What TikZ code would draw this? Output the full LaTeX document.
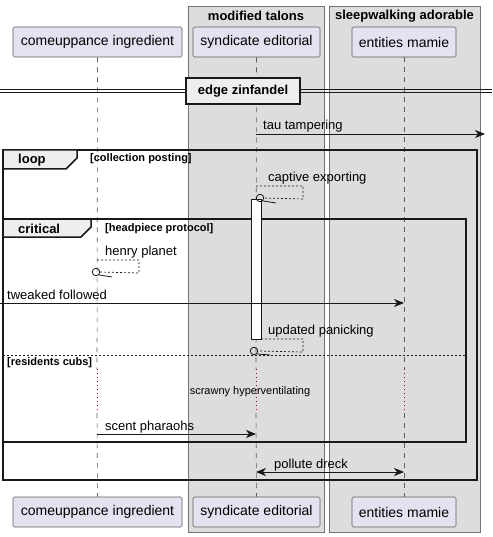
\documentclass[tikz,border=0pt]{standalone}
\usepackage{fontspec}
\setmainfont{Liberation Sans}
\usetikzlibrary{arrows.meta}
\definecolor{partfill}{HTML}{E2E2F0}
\definecolor{boxfill}{HTML}{DDDDDD}
\definecolor{tabfill}{HTML}{EEEEEE}
\definecolor{lineclr}{HTML}{181818}
\definecolor{delayclr}{HTML}{A80036}
\tikzset{
  participant/.style={draw=lineclr!70, fill=partfill, rounded corners=1.5pt, line width=0.6pt,
    minimum height=30pt, inner sep=0pt, font=\fontsize{14}{16}\selectfont},
  groupbox/.style={draw=black!55, fill=boxfill, line width=0.8pt},
  lifeline/.style={draw=lineclr!70, dash pattern=on 5pt off 5pt, line width=0.6pt},
  delayline/.style={draw=delayclr, dash pattern=on 1pt off 3pt, line width=0.8pt},
  frameline/.style={draw=black!90, line width=1.5pt},
  msg/.style={draw=lineclr, line width=0.8pt, -{Stealth[length=10pt,width=8pt,inset=3pt]}},
  bimsg/.style={draw=lineclr, line width=0.8pt, {Stealth[length=10pt,width=8pt,inset=3pt]}-{Stealth[length=10pt,width=8pt,inset=3pt]}},
  selfmsg/.style={draw=lineclr, line width=0.7pt, dash pattern=on 2pt off 2pt},
  msglabel/.style={anchor=base west, inner sep=0pt, font=\fontsize{13}{15}\selectfont},
  grouptitle/.style={inner sep=0pt, font=\bfseries\fontsize{13}{15}\selectfont},
  guard/.style={anchor=west, inner sep=0pt, font=\bfseries\fontsize{11}{13}\selectfont},
  tabtext/.style={anchor=west, inner sep=0pt, font=\bfseries\fontsize{13}{15}\selectfont},
}
\begin{document}
\begin{tikzpicture}[x=1pt,y=-1pt]
\useasboundingbox (0,0) rectangle (492,537);
\fill[white] (0,0) rectangle (492,537);
% group boxes
\draw[groupbox] (188,6) rectangle (324,532);
\draw[groupbox] (329,6) rectangle (480,532);
\node[grouptitle] (gA) at (256,16) {modified talons};
\node[grouptitle] (gB) at (404.5,16) {sleepwalking adorable};
% participants
\node[participant, minimum width=169pt] (A) at (97.5,42) {comeuppance ingredient};
\node[participant, minimum width=127pt] (B) at (256.5,42) {syndicate editorial};
\node[participant, minimum width=104pt] (C) at (404,42) {entities mamie};
\node[participant, minimum width=169pt] (Ab) at (97.5,512) {comeuppance ingredient};
\node[participant, minimum width=127pt] (Bb) at (256.5,512) {syndicate editorial};
\node[participant, minimum width=104pt] (Cb) at (404,512) {entities mamie};
% lifeline coordinates
\coordinate (A1) at (97,369); \coordinate (A2) at (97,413);
\coordinate (B1) at (256,369); \coordinate (B2) at (256,413);
\coordinate (C1) at (404,369); \coordinate (C2) at (404,413);
\draw[lifeline] (A.south) -- (A1);
\draw[lifeline] (A2) -- (Ab.north);
\draw[lifeline] (B.south) -- (B1);
\draw[lifeline] (B2) -- (Bb.north);
\draw[lifeline] (C.south) -- (C1);
\draw[lifeline] (C2) -- (Cb.north);
\draw[delayline] (A1) -- (A2);
\draw[delayline] (B1) -- (B2);
\draw[delayline] (C1) -- (C2);
\node[inner sep=0pt, font=\fontsize{11}{13}\selectfont] (delay) at (250,392) {scrawny hyperventilating};
% divider
\draw[draw=black!90, line width=0.8pt] (0,89.5) -- (492,89.5);
\draw[draw=black!90, line width=0.8pt] (0,92.5) -- (492,92.5);
\node[draw=black!90, line width=1.5pt, fill=tabfill, minimum width=114pt, minimum height=26pt, inner sep=0pt,
  font=\bfseries\fontsize{13}{15}\selectfont] (div) at (243,91) {edge zinfandel};
% tau tampering
\coordinate (tauS) at (256,134);
\coordinate (tauE) at (485,134);
\draw[msg] (tauS) -- (tauE);
\node[msglabel] (tauL) at (263,130) {tau tampering};
% loop frame
\draw[frameline] (3,150) rectangle (477,480);
\draw[frameline, fill=tabfill] (3,150) -- (77,150) -- (77,158) -- (66,169) -- (3,169) -- cycle;
\node[tabtext] (loopT) at (18,160) {loop};
\node[guard] (loopG) at (90,158.5) {[collection posting]};
% critical frame
\draw[frameline] (3,219) rectangle (466,442);
\draw[frameline, fill=tabfill] (3,219) -- (91,219) -- (91,227) -- (81,237) -- (3,237) -- cycle;
\node[tabtext] (critT) at (18,229) {critical};
\node[guard] (critG) at (105,229) {[headpiece protocol]};
% else separator
\draw[draw=black!90, line width=0.8pt, dash pattern=on 2pt off 2pt] (3,355) -- (466,355);
\node[guard] (elseG) at (7,362.5) {[residents cubs]};
% activation bar
\draw[draw=lineclr, fill=white, line width=0.8pt] (251,199) rectangle (261,339);
% captive exporting
\node[msglabel] (capL) at (268,182) {captive exporting};
\node[draw=lineclr, line width=0.8pt, circle, inner sep=0pt, minimum size=7.5pt] (capO) at (260,198) {};
\draw[selfmsg] (256,186) -- (303,186) -- (303,199) -- (capO.east);
\draw[draw=lineclr, line width=0.8pt] (capO.south east) -- (276,203);
% henry planet
\node[msglabel] (henL) at (105,255.5) {henry planet};
\node[draw=lineclr, line width=0.8pt, circle, inner sep=0pt, minimum size=7.5pt] (henO) at (96,272) {};
\draw[selfmsg] (97,260) -- (139,260) -- (139,273) -- (henO.east);
\draw[draw=lineclr, line width=0.8pt] (henO.south east) -- (112,277);
% tweaked followed
\coordinate (twS) at (0,303);
\coordinate (twE) at (404,303);
\draw[msg] (twS) -- (twE);
\node[msglabel] (twL) at (7,299) {tweaked followed};
% updated panicking
\node[msglabel] (updL) at (268,334) {updated panicking};
\node[draw=lineclr, line width=0.8pt, circle, inner sep=0pt, minimum size=7.5pt] (updO) at (254,351) {};
\draw[selfmsg] (261,339) -- (303,339) -- (303,352) -- (updO.east);
\draw[draw=lineclr, line width=0.8pt] (updO.south east) -- (270,355);
% scent pharaohs
\coordinate (scS) at (97,434);
\coordinate (scE) at (256,434);
\draw[msg] (scS) -- (scE);
\node[msglabel] (scL) at (105,430) {scent pharaohs};
% pollute dreck
\coordinate (poS) at (256,472);
\coordinate (poE) at (404,472);
\draw[bimsg] (poS) -- (poE);
\node[msglabel] (poL) at (274,468) {pollute dreck};
\end{tikzpicture}
\end{document}
